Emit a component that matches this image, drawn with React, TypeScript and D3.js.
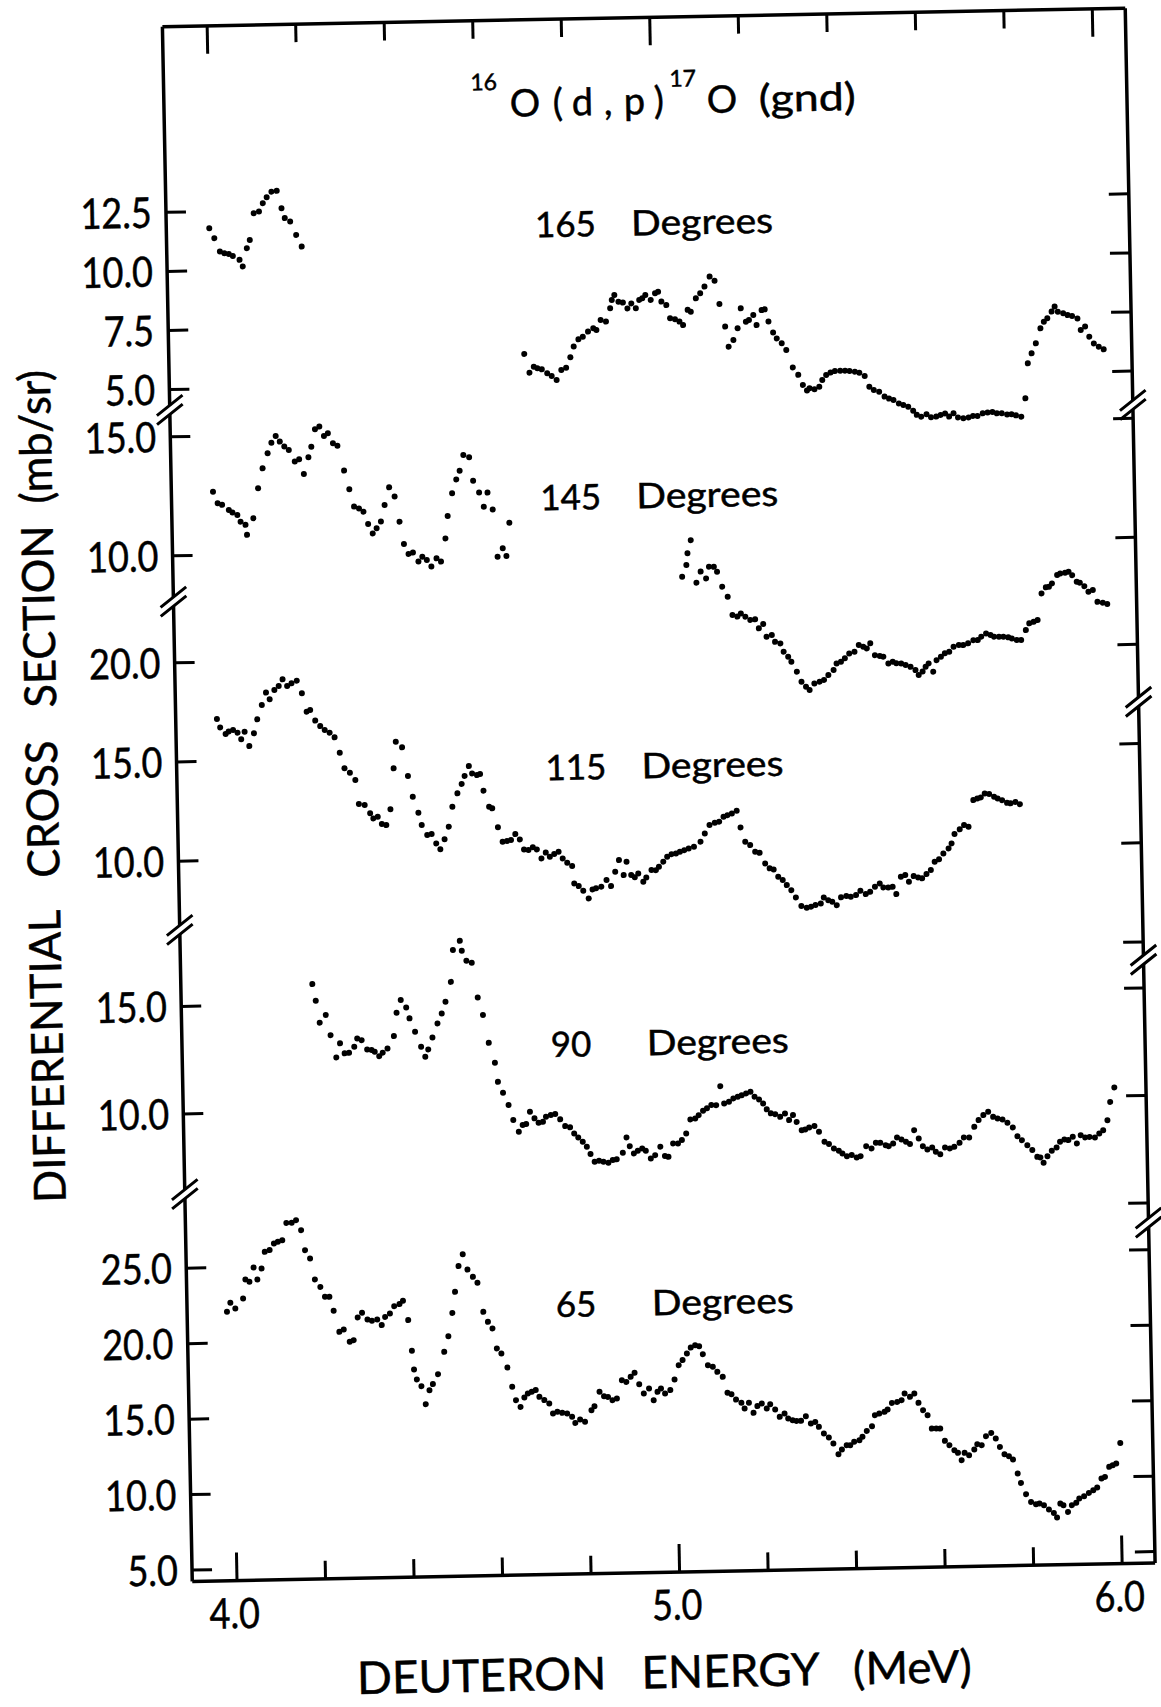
import React from 'react';
import * as d3 from 'd3';

type Pt = [number, number];

// ---------- data ----------
const energyTicks = [4.0, 4.2, 4.4, 4.6, 4.8, 5.0, 5.2, 5.4, 5.6, 5.8, 6.0];
const energyLabels = [4.0, 5.0, 6.0];

const ticks165 = [5, 7.5, 10, 12.5];
const ticks145 = [10, 15];
const ticks115Left = [10, 15, 20];
const ticks115Right = [5, 10, 15, 20];
const ticks90Left = [10, 15];
const ticks90Right = [5, 10, 15];
const ticks65 = [5, 10, 15, 20, 25];

const d165a: Pt[] = [[3.996,11.79],[4.007,11.37],[4.019,10.80],[4.029,10.72],[4.039,10.69],[4.048,10.60],[4.063,10.43],[4.070,10.15],[4.080,10.92],[4.087,11.26],[4.097,12.39],[4.109,12.46],[4.118,12.81],[4.127,13.06],[4.138,13.29],[4.150,13.32],[4.160,12.58],[4.167,12.16],[4.179,12.01],[4.192,11.44],[4.204,10.94]];

const d165b: Pt[] = [[4.702,6.22],[4.713,5.42],[4.723,5.67],[4.731,5.60],[4.741,5.55],[4.753,5.38],[4.763,5.26],[4.774,5.09],[4.785,5.51],[4.796,5.60],[4.806,6.04],[4.814,6.49],[4.825,6.79],[4.835,6.90],[4.847,7.11],[4.859,7.25],[4.866,7.17],[4.876,7.59],[4.888,7.52],[4.898,8.08],[4.902,8.43],[4.908,8.64],[4.917,8.35],[4.927,8.31],[4.937,8.06],[4.946,8.27],[4.956,8.06],[4.964,8.41],[4.971,8.48],[4.978,8.61],[4.990,8.40],[5.000,8.68],[5.007,8.74],[5.014,8.32],[5.025,8.17],[5.033,7.61],[5.044,7.56],[5.054,7.46],[5.062,7.31],[5.073,7.95],[5.080,7.87],[5.092,8.43],[5.102,8.64],[5.112,8.92],[5.124,9.34],[5.135,9.16],[5.145,8.17],[5.157,7.21],[5.164,6.36],[5.175,6.64],[5.185,7.13],[5.193,7.97],[5.204,7.40],[5.211,7.47],[5.221,7.68],[5.228,7.25],[5.240,7.88],[5.247,7.91],[5.255,7.39],[5.265,6.92],[5.273,6.67],[5.284,6.46],[5.294,6.17],[5.308,5.43],[5.320,5.11],[5.330,4.68],[5.339,4.44],[5.345,4.53],[5.356,4.49],[5.367,4.59],[5.374,4.87],[5.383,5.08],[5.393,5.18],[5.403,5.24],[5.415,5.25],[5.426,5.25],[5.436,5.23],[5.448,5.20],[5.458,5.15],[5.470,5.01],[5.480,4.55],[5.490,4.41],[5.502,4.33],[5.514,4.12],[5.524,4.03],[5.534,3.97],[5.546,3.82],[5.556,3.75],[5.567,3.67],[5.578,3.50],[5.586,3.32],[5.596,3.24],[5.608,3.34],[5.618,3.21],[5.630,3.23],[5.640,3.30],[5.650,3.36],[5.659,3.22],[5.669,3.36],[5.679,3.18],[5.691,3.14],[5.703,3.17],[5.713,3.23],[5.723,3.22],[5.735,3.33],[5.746,3.36],[5.757,3.38],[5.767,3.32],[5.778,3.32],[5.790,3.26],[5.800,3.27],[5.810,3.22],[5.822,3.16],[5.832,3.93],[5.839,5.41],[5.848,5.83],[5.858,6.25],[5.869,6.88],[5.877,7.16],[5.885,7.30],[5.895,7.58],[5.902,7.79],[5.909,7.57],[5.921,7.50],[5.931,7.42],[5.941,7.38],[5.953,7.27],[5.960,6.78],[5.970,6.92],[5.979,6.49],[5.989,6.20],[6.000,6.06],[6.011,5.94]];

const d145a: Pt[] = [[3.993,12.66],[4.003,12.17],[4.013,12.10],[4.028,11.88],[4.036,11.77],[4.047,11.66],[4.054,11.38],[4.065,11.24],[4.068,10.82],[4.083,11.51],[4.095,12.77],[4.106,13.60],[4.118,14.23],[4.127,14.67],[4.137,14.95],[4.146,14.71],[4.156,14.50],[4.166,14.35],[4.179,13.86],[4.189,13.95],[4.199,13.33],[4.210,14.03],[4.217,14.47],[4.226,15.20],[4.236,15.31],[4.246,14.91],[4.255,15.02],[4.266,14.60],[4.276,14.49],[4.290,13.44],[4.301,12.65],[4.311,11.92],[4.322,11.84],[4.332,11.70],[4.342,11.18],[4.352,10.78],[4.361,10.99],[4.371,11.27],[4.380,11.96],[4.391,12.70],[4.403,12.31],[4.413,11.25],[4.422,10.31],[4.432,9.89],[4.442,9.94],[4.454,9.56],[4.463,9.76],[4.473,9.62],[4.483,9.34],[4.495,9.68],[4.505,9.54],[4.516,10.51],[4.522,11.45],[4.533,12.40],[4.543,12.98],[4.551,13.34],[4.560,14.00],[4.573,13.90],[4.581,12.91],[4.594,12.41],[4.604,11.81],[4.613,12.40],[4.624,11.69],[4.633,9.70],[4.645,10.05],[4.653,9.72],[4.661,11.12]];

const d145b: Pt[] = [[5.049,8.71],[5.059,9.20],[5.062,9.69],[5.070,10.24],[5.081,8.45],[5.091,8.91],[5.103,8.62],[5.110,9.11],[5.121,9.10],[5.128,8.89],[5.139,8.26],[5.151,7.83],[5.161,7.06],[5.172,6.99],[5.180,7.12],[5.190,6.98],[5.201,6.84],[5.212,6.86],[5.220,6.48],[5.230,6.66],[5.237,6.12],[5.249,6.19],[5.256,5.90],[5.268,5.83],[5.275,5.48],[5.285,5.26],[5.292,5.05],[5.304,4.63],[5.314,4.20],[5.324,3.99],[5.332,3.85],[5.343,4.12],[5.355,4.19],[5.365,4.26],[5.375,4.46],[5.387,4.67],[5.394,4.94],[5.404,5.01],[5.413,5.15],[5.423,5.35],[5.435,5.42],[5.445,5.70],[5.455,5.62],[5.463,5.55],[5.471,5.76],[5.481,5.26],[5.492,5.22],[5.500,5.19],[5.511,4.90],[5.521,4.97],[5.529,4.90],[5.540,4.89],[5.550,4.82],[5.561,4.74],[5.572,4.60],[5.579,4.39],[5.588,4.53],[5.595,4.73],[5.602,4.87],[5.612,4.52],[5.620,5.00],[5.630,5.14],[5.639,5.28],[5.649,5.34],[5.659,5.55],[5.671,5.62],[5.681,5.61],[5.692,5.68],[5.704,5.81],[5.714,5.81],[5.722,5.95],[5.733,6.08],[5.743,6.01],[5.751,5.94],[5.762,5.93],[5.772,5.93],[5.783,5.90],[5.791,5.85],[5.802,5.78],[5.812,5.78],[5.823,6.19],[5.831,6.47],[5.841,6.53],[5.850,6.60],[5.860,7.72],[5.870,7.97],[5.877,7.99],[5.884,8.13],[5.896,8.48],[5.903,8.54],[5.914,8.57],[5.922,8.61],[5.930,8.46],[5.940,8.18],[5.947,8.14],[5.957,7.99],[5.966,7.75],[5.976,7.82],[5.986,7.32],[5.998,7.28],[6.008,7.22]];

const d115: Pt[] = [[3.992,17.13],[3.999,16.70],[4.011,16.36],[4.018,16.48],[4.028,16.56],[4.038,16.42],[4.046,16.08],[4.054,16.46],[4.064,15.73],[4.075,16.37],[4.083,17.07],[4.094,17.79],[4.104,18.41],[4.112,18.07],[4.123,18.53],[4.133,18.73],[4.142,19.06],[4.152,18.72],[4.162,18.85],[4.174,18.98],[4.185,18.34],[4.195,17.41],[4.203,17.49],[4.214,16.95],[4.225,16.67],[4.235,16.47],[4.246,16.33],[4.257,16.09],[4.268,15.31],[4.278,14.52],[4.290,14.29],[4.302,13.92],[4.309,12.71],[4.322,12.65],[4.334,12.23],[4.341,11.97],[4.351,12.05],[4.360,11.68],[4.370,11.62],[4.380,12.41],[4.389,14.47],[4.395,15.81],[4.409,15.52],[4.421,14.07],[4.431,13.02],[4.443,12.21],[4.450,11.59],[4.462,11.08],[4.472,11.13],[4.482,10.65],[4.491,10.35],[4.501,10.85],[4.511,11.48],[4.520,12.48],[4.532,13.15],[4.542,13.62],[4.549,14.02],[4.559,14.51],[4.566,14.14],[4.577,14.05],[4.584,14.10],[4.591,13.26],[4.603,12.45],[4.610,12.36],[4.622,11.40],[4.632,10.67],[4.642,10.70],[4.651,10.75],[4.661,11.04],[4.671,10.77],[4.680,10.26],[4.690,10.23],[4.700,10.36],[4.709,10.25],[4.719,9.79],[4.729,10.08],[4.738,9.87],[4.748,10.00],[4.758,10.11],[4.767,9.77],[4.777,9.55],[4.788,9.38],[4.792,8.50],[4.802,8.36],[4.812,8.12],[4.824,7.73],[4.833,8.18],[4.841,8.23],[4.853,8.31],[4.865,8.64],[4.875,8.33],[4.885,9.05],[4.894,9.63],[4.904,8.87],[4.911,9.54],[4.921,8.87],[4.929,8.75],[4.937,8.94],[4.948,8.52],[4.955,8.73],[4.967,9.10],[4.977,9.09],[4.984,9.26],[4.994,9.51],[5.003,9.75],[5.013,9.88],[5.023,9.91],[5.032,9.99],[5.042,10.07],[5.052,10.15],[5.064,10.23],[5.079,10.48],[5.089,10.89],[5.100,11.31],[5.112,11.42],[5.122,11.47],[5.132,11.71],[5.141,11.79],[5.151,11.87],[5.162,12.00],[5.170,11.16],[5.180,10.43],[5.191,10.26],[5.202,9.92],[5.212,9.86],[5.224,9.32],[5.234,9.07],[5.243,9.01],[5.253,8.64],[5.263,8.47],[5.272,8.21],[5.282,7.95],[5.292,7.58],[5.304,7.14],[5.316,7.05],[5.326,7.10],[5.336,7.18],[5.348,7.25],[5.355,7.55],[5.365,7.41],[5.374,7.33],[5.384,7.15],[5.394,7.54],[5.406,7.60],[5.416,7.56],[5.428,7.64],[5.438,7.85],[5.450,7.68],[5.460,7.79],[5.471,8.04],[5.482,8.20],[5.490,8.00],[5.501,7.99],[5.511,8.02],[5.519,7.65],[5.530,8.52],[5.540,8.60],[5.548,8.26],[5.559,8.54],[5.569,8.47],[5.578,8.42],[5.588,8.63],[5.598,8.83],[5.607,9.24],[5.617,9.36],[5.627,9.65],[5.639,9.90],[5.646,10.15],[5.653,10.62],[5.665,10.85],[5.675,11.06],[5.685,10.97],[5.697,12.31],[5.706,12.39],[5.714,12.44],[5.723,12.63],[5.733,12.60],[5.744,12.46],[5.752,12.37],[5.762,12.28],[5.773,12.14],[5.781,12.11],[5.792,12.18],[5.802,12.06]];

const d90: Pt[] = [[4.196,15.92],[4.203,15.14],[4.211,14.12],[4.225,14.47],[4.235,13.53],[4.247,12.49],[4.256,13.14],[4.266,12.67],[4.276,12.69],[4.288,12.97],[4.295,13.35],[4.305,13.27],[4.317,12.83],[4.327,12.80],[4.334,12.72],[4.344,12.51],[4.352,12.67],[4.363,12.86],[4.378,13.43],[4.385,14.51],[4.395,15.10],[4.407,14.75],[4.414,14.24],[4.426,13.61],[4.439,12.91],[4.448,12.44],[4.455,12.78],[4.465,13.33],[4.477,13.98],[4.487,14.44],[4.496,14.98],[4.509,15.90],[4.515,17.38],[4.531,17.80],[4.535,17.34],[4.545,16.87],[4.557,16.77],[4.569,15.15],[4.580,14.33],[4.592,13.03],[4.605,12.10],[4.611,11.21],[4.622,10.70],[4.634,10.12],[4.644,9.42],[4.656,8.87],[4.665,9.18],[4.673,9.22],[4.682,9.79],[4.692,9.48],[4.701,9.27],[4.711,9.31],[4.718,9.54],[4.729,9.62],[4.739,9.66],[4.750,9.41],[4.761,9.09],[4.772,9.03],[4.781,8.74],[4.790,8.55],[4.800,8.35],[4.809,8.11],[4.817,7.77],[4.826,7.41],[4.836,7.45],[4.846,7.40],[4.857,7.35],[4.867,7.47],[4.876,7.50],[4.890,7.80],[4.899,8.51],[4.906,8.10],[4.915,7.76],[4.924,7.88],[4.934,7.98],[4.942,7.87],[4.953,7.51],[4.963,7.66],[4.975,8.05],[4.985,7.61],[4.993,7.57],[5.004,8.19],[5.015,8.18],[5.024,8.34],[5.034,8.64],[5.044,9.29],[5.055,9.33],[5.063,9.48],[5.073,9.68],[5.082,9.79],[5.092,9.94],[5.103,9.93],[5.113,10.81],[5.121,10.00],[5.132,10.08],[5.142,10.23],[5.152,10.30],[5.161,10.37],[5.171,10.45],[5.181,10.52],[5.190,10.29],[5.200,10.16],[5.209,9.97],[5.217,9.69],[5.226,9.50],[5.236,9.46],[5.247,9.33],[5.258,9.48],[5.267,9.17],[5.276,9.40],[5.284,9.08],[5.295,8.69],[5.303,8.72],[5.312,8.81],[5.324,8.87],[5.334,8.60],[5.346,8.13],[5.356,8.02],[5.367,7.81],[5.378,7.70],[5.386,7.57],[5.396,7.44],[5.407,7.49],[5.418,7.37],[5.427,7.43],[5.440,7.89],[5.452,7.78],[5.462,8.04],[5.472,8.03],[5.484,7.92],[5.491,7.87],[5.501,7.99],[5.510,8.27],[5.520,8.17],[5.530,8.06],[5.539,7.95],[5.549,8.59],[5.559,8.20],[5.568,7.84],[5.578,7.68],[5.589,7.77],[5.597,7.57],[5.607,7.45],[5.618,7.76],[5.629,7.71],[5.639,7.78],[5.651,7.96],[5.661,8.21],[5.673,8.20],[5.685,8.69],[5.695,9.00],[5.706,9.23],[5.717,9.38],[5.728,9.14],[5.738,9.06],[5.749,9.01],[5.760,8.85],[5.772,8.63],[5.782,8.22],[5.792,8.03],[5.804,7.79],[5.815,7.56],[5.826,7.24],[5.833,7.21],[5.840,6.96],[5.849,7.26],[5.859,7.51],[5.870,7.66],[5.878,7.92],[5.888,8.02],[5.897,7.99],[5.907,8.14],[5.916,7.83],[5.925,8.21],[5.935,8.10],[5.945,8.12],[5.957,8.09],[5.967,8.27],[5.976,8.42],[5.986,8.88],[5.993,9.73],[6.003,10.40]];

const d65: Pt[] = [[3.989,22.06],[3.997,22.65],[4.008,22.27],[4.026,22.92],[4.032,24.18],[4.041,24.02],[4.051,24.96],[4.059,24.16],[4.069,24.88],[4.077,25.98],[4.088,26.09],[4.098,26.52],[4.107,26.63],[4.117,26.73],[4.127,27.87],[4.139,27.87],[4.149,28.04],[4.160,27.37],[4.168,26.04],[4.179,25.48],[4.189,24.09],[4.201,23.59],[4.211,22.93],[4.221,22.92],[4.230,21.99],[4.242,20.59],[4.252,20.74],[4.265,19.92],[4.274,20.02],[4.284,21.52],[4.294,21.82],[4.306,21.37],[4.316,21.28],[4.328,21.36],[4.338,20.98],[4.346,21.52],[4.357,21.74],[4.367,22.22],[4.379,22.35],[4.387,22.56],[4.398,21.28],[4.405,19.24],[4.409,18.00],[4.415,17.34],[4.425,16.89],[4.434,15.69],[4.443,16.61],[4.451,17.01],[4.463,17.66],[4.478,19.13],[4.488,20.16],[4.498,21.70],[4.505,23.09],[4.514,24.79],[4.524,25.57],[4.534,24.55],[4.546,24.06],[4.556,23.66],[4.568,21.73],[4.578,21.06],[4.588,20.62],[4.597,19.29],[4.607,18.95],[4.620,18.01],[4.630,16.73],[4.638,15.84],[4.648,15.39],[4.657,16.01],[4.665,16.27],[4.674,16.37],[4.683,16.48],[4.691,16.03],[4.702,15.81],[4.713,15.58],[4.721,14.91],[4.731,15.02],[4.742,14.94],[4.753,14.89],[4.764,14.67],[4.771,14.26],[4.782,14.48],[4.793,14.32],[4.808,15.08],[4.815,15.34],[4.827,16.29],[4.837,15.99],[4.846,15.94],[4.856,15.72],[4.866,15.82],[4.878,17.03],[4.888,16.91],[4.898,17.24],[4.907,17.50],[4.917,16.74],[4.927,16.12],[4.939,16.44],[4.949,15.66],[4.958,16.21],[4.966,16.43],[4.975,16.09],[4.987,16.31],[4.997,17.01],[5.007,17.95],[5.016,18.28],[5.026,18.71],[5.035,19.10],[5.045,19.25],[5.054,19.18],[5.062,18.65],[5.073,17.91],[5.084,17.80],[5.094,17.46],[5.106,17.12],[5.116,16.06],[5.125,15.96],[5.135,15.60],[5.147,15.38],[5.154,15.00],[5.164,15.37],[5.174,14.70],[5.183,15.14],[5.193,15.31],[5.204,14.97],[5.212,15.25],[5.223,14.89],[5.233,14.40],[5.244,14.62],[5.252,14.28],[5.262,14.16],[5.271,14.11],[5.281,14.11],[5.292,14.41],[5.303,13.92],[5.313,14.02],[5.321,13.69],[5.332,13.24],[5.343,12.97],[5.353,12.57],[5.364,11.85],[5.372,12.16],[5.383,12.44],[5.391,12.43],[5.400,12.65],[5.412,12.75],[5.419,12.97],[5.429,13.36],[5.441,13.66],[5.448,14.39],[5.458,14.49],[5.470,14.60],[5.477,14.75],[5.487,15.18],[5.499,15.24],[5.509,15.35],[5.516,15.79],[5.528,15.56],[5.538,15.77],[5.547,15.15],[5.557,14.66],[5.567,14.32],[5.576,13.43],[5.586,13.43],[5.595,13.42],[5.605,12.60],[5.615,12.31],[5.626,11.97],[5.634,11.79],[5.642,11.30],[5.649,11.78],[5.659,11.62],[5.671,11.99],[5.678,12.34],[5.688,12.27],[5.698,12.86],[5.710,13.07],[5.720,12.69],[5.729,12.13],[5.739,11.64],[5.749,11.50],[5.758,11.28],[5.768,10.35],[5.775,9.72],[5.786,8.97],[5.797,8.45],[5.808,8.29],[5.816,8.33],[5.826,8.21],[5.837,7.92],[5.848,7.69],[5.855,7.38],[5.863,8.30],[5.870,8.19],[5.880,7.74],[5.889,8.18],[5.899,8.33],[5.906,8.61],[5.917,8.76],[5.928,8.97],[5.938,9.14],[5.947,9.32],[5.957,9.91],[5.965,10.01],[5.975,10.67],[5.983,10.77],[5.991,10.88],[6.001,12.24]];

// ---------- layout ----------
const W = 1161;
const H = 1707;
const FRAME = { left: 177.25, right: 1140.25, top: 17.3, bottom: 1572.3 };
const TILT = { angle: -1.1, cx: 658.75, cy: 794.8 };
const FONT = "Lato, 'Liberation Sans', Arial, sans-serif";
const TEXT_STROKE = 0.5;

const x = d3.scaleLinear().domain([4, 6]).range([222, 1107.3]);

const panels = [
  { deg: '165', series: [d165a, d165b], y: d3.scaleLinear().domain([5, 12.5]).range([380.2, 203.0]), left: ticks165, right: ticks165, labelY: 235 },
  { deg: '145', series: [d145a, d145b], y: d3.scaleLinear().domain([10, 15]).range([546.5, 427.5]), left: ticks145, right: ticks145, labelY: 508 },
  { deg: '115', series: [d115], y: d3.scaleLinear().domain([10, 20]).range([852, 653.5]), left: ticks115Left, right: ticks115Right, labelY: 778 },
  { deg: '90', series: [d90], y: d3.scaleLinear().domain([10, 15]).range([1104.7, 997.2]), left: ticks90Left, right: ticks90Right, labelY: 1055 },
  { deg: '65', series: [d65], y: d3.scaleLinear().domain([5, 25]).range([1561, 1259]), left: ticks65, right: ticks65, labelY: 1315 },
];

const leftBreaks = [400.6, 592.3, 920.6, 1185];
const rightBreaks = [414, 711, 969, 1232];
const BREAK_GAP = 4.5;

const titleParts = [
  { t: '16', x: 484, sup: true },
  { t: 'O', x: 523, sup: false },
  { t: '(', x: 566, sup: false },
  { t: 'd', x: 585, sup: false },
  { t: ',', x: 617, sup: false },
  { t: 'p', x: 637, sup: false },
  { t: ')', x: 667, sup: false },
  { t: '17', x: 683, sup: true },
  { t: 'O', x: 720, sup: false },
  { t: '(gnd)', x: 772, sup: false },
];

const fmt = d3.format('.1f');

function axisWithGaps(xPos: number, breaks: number[]) {
  const pts = [FRAME.top, ...breaks.flatMap((b) => [b - BREAK_GAP, b + BREAK_GAP]), FRAME.bottom];
  let d = '';
  for (let i = 0; i < pts.length; i += 2) {
    d += `M${xPos},${pts[i]}L${xPos},${pts[i + 1]}`;
  }
  return d;
}

function breakMarks(xPos: number, breaks: number[]) {
  return breaks.flatMap((b) =>
    [-BREAK_GAP, BREAK_GAP].map((o) => `M${xPos - 13},${b + o + 10}L${xPos + 13},${b + o - 10}`)
  ).join('');
}

export default function App() {
  return (
    <svg
      width={W}
      height={H}
      viewBox={`0 0 ${W} ${H}`}
      style={{ position: 'absolute', left: 0, top: 0, background: '#fff', display: 'block' }}
    >
      <rect x={0} y={0} width={W} height={H} fill="#fff" />
      <g transform={`rotate(${TILT.angle}, ${TILT.cx}, ${TILT.cy})`} fontFamily={FONT} fill="#000">
        {/* frame */}
        <path d={`M${FRAME.left},${FRAME.top}L${FRAME.right},${FRAME.top}`} stroke="#000" strokeWidth={3.5} fill="none" />
        <path d={`M${FRAME.left},${FRAME.bottom}L${FRAME.right},${FRAME.bottom}`} stroke="#000" strokeWidth={3.5} fill="none" />
        <path d={axisWithGaps(FRAME.left, leftBreaks)} stroke="#000" strokeWidth={3.5} fill="none" />
        <path d={axisWithGaps(FRAME.right, rightBreaks)} stroke="#000" strokeWidth={3.5} fill="none" />
        <path d={breakMarks(FRAME.left, leftBreaks)} stroke="#000" strokeWidth={3} fill="none" />
        <path d={breakMarks(FRAME.right, rightBreaks)} stroke="#000" strokeWidth={3} fill="none" />

        {/* energy ticks top & bottom */}
        {energyTicks.map((e) => {
          const major = Math.abs(e - Math.round(e)) < 1e-6;
          const len = major ? 28 : 18;
          return (
            <g key={`et${e}`}>
              <line x1={x(e)} x2={x(e)} y1={FRAME.bottom} y2={FRAME.bottom - len} stroke="#000" strokeWidth={3} />
              <line x1={x(e)} x2={x(e)} y1={FRAME.top} y2={FRAME.top + len} stroke="#000" strokeWidth={3} />
            </g>
          );
        })}
        <g stroke="#000" strokeWidth={TEXT_STROKE}>
          {energyLabels.map((e) => (
            <text
              key={`el${e}`}
              transform={`translate(${x(e) - 3},1620) scale(0.86,1)`}
              textAnchor="middle"
              fontSize={42}
            >
              {fmt(e)}
            </text>
          ))}
        </g>

        {/* panels */}
        {panels.map((p) => (
          <g key={p.deg}>
            {p.left.map((v) => (
              <g key={`l${v}`}>
                <line x1={FRAME.left} x2={FRAME.left + 20} y1={p.y(v)} y2={p.y(v)} stroke="#000" strokeWidth={3} />
                <text transform={`translate(163,${p.y(v) + 15}) scale(0.86,1)`} textAnchor="end" fontSize={42}
                  stroke="#000" strokeWidth={TEXT_STROKE}>
                  {fmt(v)}
                </text>
              </g>
            ))}
            {p.right.map((v) => (
              <line key={`r${v}`} x1={FRAME.right} x2={FRAME.right - 20} y1={p.y(v)} y2={p.y(v)} stroke="#000" strokeWidth={3} />
            ))}
            {p.series.map((s, si) => (
              <g key={`s${si}`}>
                {s.map(([e, v], i) => (
                  <circle key={i} cx={x(e)} cy={p.y(v)} r={3} fill="#000" />
                ))}
              </g>
            ))}
            <g stroke="#000" strokeWidth={TEXT_STROKE}>
              <text x={546} y={p.labelY} fontSize={35}>{p.deg}</text>
              <text x={642} y={p.labelY} fontSize={35} textLength={142} lengthAdjust="spacingAndGlyphs">Degrees</text>
            </g>
          </g>
        ))}

        {/* title */}
        <g stroke="#000" strokeWidth={TEXT_STROKE}>
          {titleParts.map((tp, i) => (
            <text key={`t${i}`} x={tp.x} y={tp.sup ? 87 : 114} fontSize={tp.sup ? 23 : 38}
              textLength={tp.t === '(gnd)' ? 97 : undefined} lengthAdjust="spacingAndGlyphs">
              {tp.t}
            </text>
          ))}
        </g>

        {/* axis titles */}
        <g stroke="#000" strokeWidth={TEXT_STROKE}>
          <text
            transform="translate(58,774.5) rotate(-90)"
            textAnchor="middle"
            fontSize={44}
            textLength={833}
            lengthAdjust="spacingAndGlyphs"
            style={{ whiteSpace: 'pre' }}
          >
            {'DIFFERENTIAL   CROSS   SECTION  (mb/sr)'}
          </text>
          <text
            x={340}
            y={1688}
            fontSize={45}
            textLength={615}
            lengthAdjust="spacingAndGlyphs"
            style={{ whiteSpace: 'pre' }}
          >
            {'DEUTERON   ENERGY   (MeV)'}
          </text>
        </g>
      </g>
    </svg>
  );
}
